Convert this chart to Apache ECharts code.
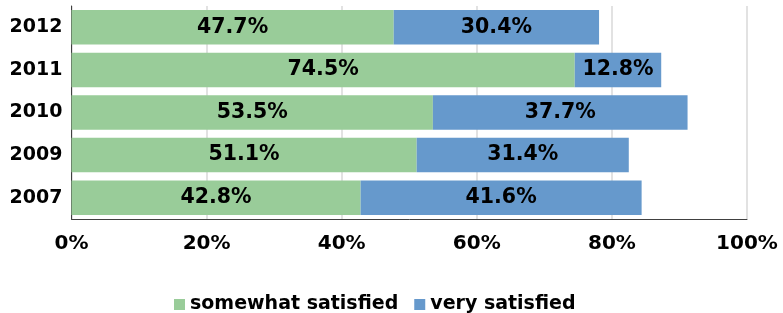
<!DOCTYPE html>
<html><head><meta charset="utf-8">
<script src="https://cdn.jsdelivr.net/npm/echarts@6/dist/echarts.min.js"></script>
<style>html,body{margin:0;padding:0;background:#fff}#c{width:783px;height:313px}</style>
</head><body><div id="c"></div>
<script>
const categories = ['2007', '2009', '2010', '2011', '2012'];
const somewhatSatisfied = [42.8, 51.1, 53.5, 74.5, 47.7];
const verySatisfied = [41.6, 31.4, 37.7, 12.8, 30.4];
const seriesNames = ['somewhat satisfied', 'very satisfied'];
const font = 'DejaVu Sans';
const chart = echarts.init(document.getElementById('c'));
const lbl = {show: true, position: 'inside', color: '#000', fontFamily: font, fontWeight: 'bold', fontSize: 20.5,
  formatter: p => p.value.toFixed(1) + '%'};
chart.setOption({
  animation: false,
  grid: {left: 71.5, right: 36, top: 6, bottom: 94, containLabel: false},
  legend: {top: 290, left: 169, itemWidth: 11, itemHeight: 11, itemGap: 16, icon: 'rect',
    textStyle: {fontFamily: font, fontWeight: 'bold', fontSize: 19, color: '#000'},
    data: seriesNames},
  xAxis: {type: 'value', min: 0, max: 100, interval: 20,
    axisLabel: {formatter: '{value}%', fontFamily: font, fontWeight: 'bold', fontSize: 20, color: '#000', margin: 15},
    axisLine: {show: true, lineStyle: {color: '#404040', width: 1}},
    axisTick: {show: false},
    splitLine: {show: true, lineStyle: {color: '#d9d9d9', width: 1.5}}},
  yAxis: {type: 'category', data: categories,
    axisLabel: {fontFamily: font, fontWeight: 'bold', fontSize: 19, color: '#000', margin: 9},
    axisLine: {show: true, lineStyle: {color: '#404040', width: 1}},
    axisTick: {show: false}},
  series: [
    {name: seriesNames[0], type: 'bar', stack: 's', data: somewhatSatisfied, barCategoryGap: '19%',
      itemStyle: {color: '#99cc99'}, label: lbl},
    {name: seriesNames[1], type: 'bar', stack: 's', data: verySatisfied, barCategoryGap: '19%',
      itemStyle: {color: '#6699cc'}, label: lbl}
  ]
});
</script></body></html>
